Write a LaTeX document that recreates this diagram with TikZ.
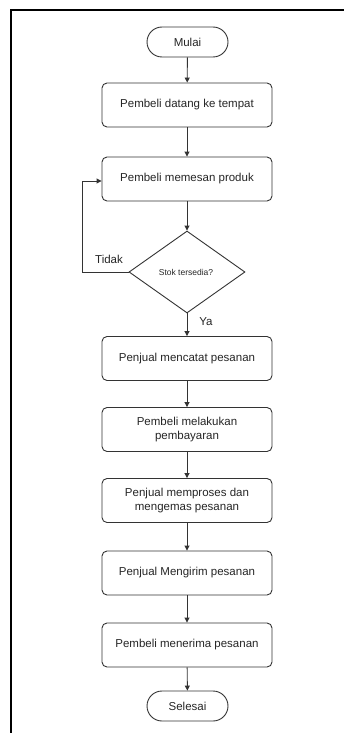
\documentclass[tikz,border=0pt]{standalone}
\usepackage{fontspec}
\setmainfont{Liberation Sans}
\usetikzlibrary{shapes.geometric,arrows.meta}
\definecolor{ln}{HTML}{333333}
\begin{document}
\begin{tikzpicture}[x=1pt,y=-1pt,
  box/.style={draw=ln,line width=0.9pt,rounded corners=5pt,minimum width=170pt,minimum height=44pt,align=center,font=\fontsize{11.5}{13.5}\selectfont,text=black!85},
  term/.style={draw=ln,line width=0.9pt,rounded corners=15pt,minimum width=81pt,minimum height=30pt,font=\fontsize{11.5}{13.5}\selectfont,text=black!85},
  dec/.style={draw=ln,line width=0.9pt,diamond,minimum width=116pt,minimum height=82pt,inner sep=0pt,aspect=1.41,font=\fontsize{8.5}{10}\selectfont,text=black!85},
  arr/.style={draw=ln,line width=0.9pt,-{Triangle[length=5pt,width=5pt]}},
  lbl/.style={font=\fontsize{11.5}{13.5}\selectfont,text=black!85}]
\useasboundingbox (0,0) rectangle (344,733);
\fill[white] (0,0) rectangle (344,733);
\draw[line width=1.2pt,black] (11,733) -- (11,10) -- (344,10);
\node[term] (start) at (187.5,42) {Mulai};
\node[box] (b1) at (187,105) {Pembeli datang ke tempat};
\node[box] (b2) at (187,179) {Pembeli memesan produk};
\node[dec,minimum width=116pt,minimum height=82pt] (d) at (187,272) {};
\node[font=\fontsize{8.5}{10}\selectfont,text=black!85] at (186,272) {Stok tersedia?};
\node[box] (b3) at (187,358.5) {Penjual mencatat pesanan};
\node[box] (b4) at (187,429.5) {Pembeli melakukan\\pembayaran};
\node[box] (b5) at (187,500.5) {Penjual memproses dan\\mengemas pesanan};
\node[box] (b6) at (187,573) {Penjual Mengirim pesanan};
\node[box] (b7) at (187,645) {Pembeli menerima pesanan};
\node[term] (end) at (187.5,706) {Selesai};
\coordinate (c1) at (82,272);
\coordinate (c2) at (82,181);
\draw[arr] (start) -- (b1);
\draw[arr] (b1) -- (b2);
\draw[arr] (b2) -- (d.north);
\draw[arr] (d.south) -- (b3);
\draw[arr] (b3) -- (b4);
\draw[arr] (b4) -- (b5);
\draw[arr] (b5) -- (b6);
\draw[arr] (b6) -- (b7);
\draw[arr] (b7) -- (end);
\draw[arr] (d.west) -- (c1) -- (c2) -- (c2 -| b2.west);
\node[lbl] (tidak) at (109,259) {Tidak};
\node[lbl] (ya) at (206,322) {Ya};
\end{tikzpicture}
\end{document}
